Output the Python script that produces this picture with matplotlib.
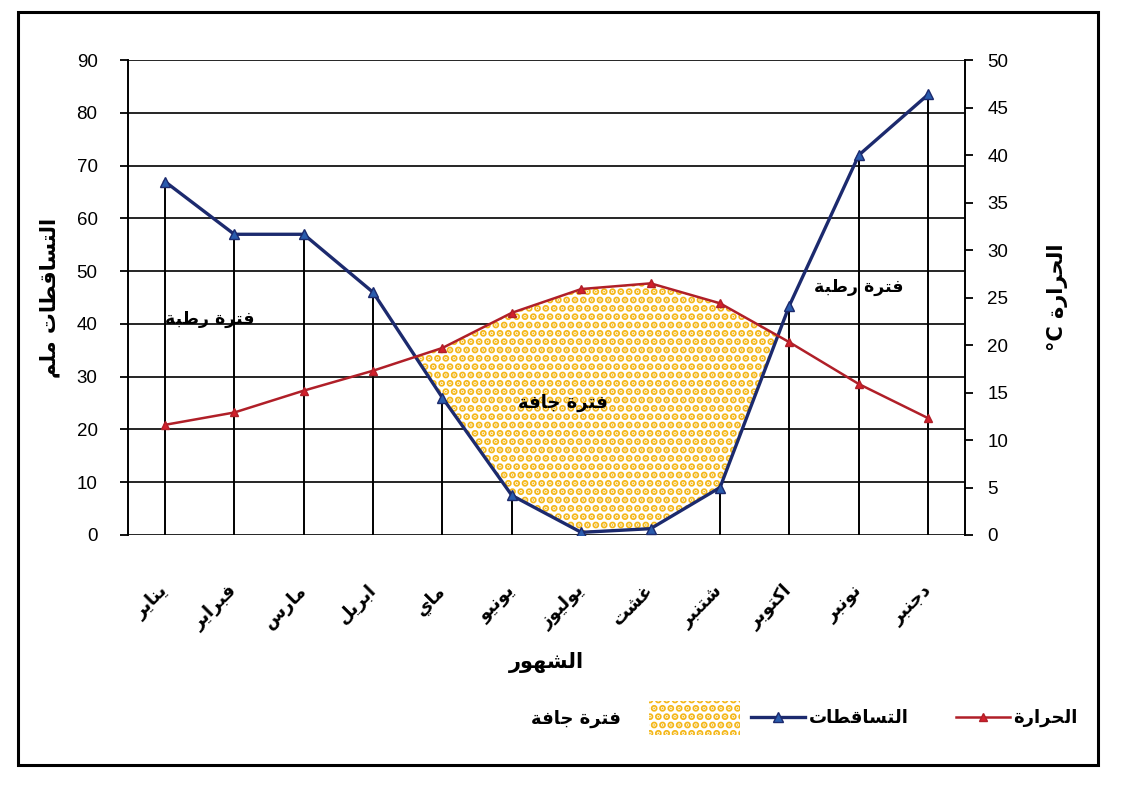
import matplotlib
matplotlib.use("Agg")
import matplotlib.pyplot as plt
from matplotlib.patches import Patch, Rectangle
from matplotlib.lines import Line2D
import numpy as np

# ---------------- data ----------------
months = ["يناير", "فبراير", "مارس", "ابريل", "ماي", "يونيو",
          "يوليوز", "غشت", "شتنبر", "اكتوبر", "نونبر", "دجنبر"]
precip = [67, 57, 57, 46, 26, 7.5, 0.5, 1.2, 9, 43.5, 72, 83.5]      # mm (left axis)
temp = [11.6, 12.9, 15.2, 17.3, 19.7, 23.4, 25.9, 26.5, 24.4, 20.3, 15.9, 12.3]  # °C (right axis)
left_ticks = list(range(0, 91, 10))
right_ticks = list(range(0, 51, 5))

title_x = "الشهور"
title_left = "التساقطات ملم"
title_right = "الحرارة"
label_temp = "الحرارة"
label_precip = "التساقطات"
label_dry = "فترة جافة"
label_wet = "فترة رطبة"

# ---------------- simple Arabic shaping (presentation forms + visual order) -----
FORMS = {
    'ا': (0xFE8D, 0xFE8E, None, None), 'ب': (0xFE8F, 0xFE90, 0xFE91, 0xFE92),
    'ة': (0xFE93, 0xFE94, None, None), 'ت': (0xFE95, 0xFE96, 0xFE97, 0xFE98),
    'ج': (0xFE9D, 0xFE9E, 0xFE9F, 0xFEA0), 'ح': (0xFEA1, 0xFEA2, 0xFEA3, 0xFEA4),
    'د': (0xFEA9, 0xFEAA, None, None), 'ر': (0xFEAD, 0xFEAE, None, None),
    'ز': (0xFEAF, 0xFEB0, None, None), 'س': (0xFEB1, 0xFEB2, 0xFEB3, 0xFEB4),
    'ش': (0xFEB5, 0xFEB6, 0xFEB7, 0xFEB8), 'ط': (0xFEC1, 0xFEC2, 0xFEC3, 0xFEC4),
    'غ': (0xFECD, 0xFECE, 0xFECF, 0xFED0), 'ف': (0xFED1, 0xFED2, 0xFED3, 0xFED4),
    'ق': (0xFED5, 0xFED6, 0xFED7, 0xFED8), 'ك': (0xFED9, 0xFEDA, 0xFEDB, 0xFEDC),
    'ل': (0xFEDD, 0xFEDE, 0xFEDF, 0xFEE0), 'م': (0xFEE1, 0xFEE2, 0xFEE3, 0xFEE4),
    'ن': (0xFEE5, 0xFEE6, 0xFEE7, 0xFEE8), 'ه': (0xFEE9, 0xFEEA, 0xFEEB, 0xFEEC),
    'و': (0xFEED, 0xFEEE, None, None), 'ي': (0xFEF1, 0xFEF2, 0xFEF3, 0xFEF4),
}


def ar(s):
    out = []
    n = len(s)
    for i, c in enumerate(s):
        if c not in FORMS:
            out.append(c)
            continue
        f = FORMS[c]
        prev = s[i - 1] if i > 0 else None
        nxt = s[i + 1] if i < n - 1 else None
        pj = prev in FORMS and FORMS[prev][2] is not None
        nj = nxt in FORMS and f[2] is not None
        idx = 3 if (pj and nj) else 1 if pj else 2 if nj else 0
        out.append(chr(f[idx]))
    return ''.join(out)[::-1]


AR_FONT = ["DejaVu Sans"]
NUM_FONT = ["Liberation Sans", "DejaVu Sans"]
DOT = "#f4b719"

plt.rcParams['hatch.linewidth'] = 3.6

# ---------------- figure ----------------
fig = plt.figure(figsize=(11.24, 7.92), dpi=100)
ax = fig.add_axes([0.114, 0.3245, 0.7445, 0.5995])
ax2 = ax.twinx()

x = np.arange(len(months))
ratio = 90 / 50
temp_left = np.array(temp) * ratio
precip_arr = np.array(precip)

ax.set_xlim(-0.53, len(months) - 0.47)
ax.set_ylim(0, 90)
ax2.set_ylim(0, 50)

# gridlines
for v in left_ticks:
    ax.axhline(v, color="black", lw=1.2, zorder=1)

# drop lines from precipitation points
ax.vlines(x, 0, precip_arr, color="black", lw=1.4, zorder=1.5)

# dry period fill
ax.fill_between(x, precip_arr, temp_left, where=temp_left > precip_arr,
                interpolate=True, facecolor="white", edgecolor=DOT,
                hatch="..", linewidth=0, zorder=2)

# precipitation line
ax.plot(x, precip_arr, color="#1c2a6e", lw=2.4, marker="^", ms=7,
        markerfacecolor="#2a5cae", markeredgecolor="#1c2a6e", zorder=4)
# temperature line
ax2.plot(x, temp, color="#b01f28", lw=1.8, marker="^", ms=6,
         markerfacecolor="#d4202c", markeredgecolor="#b01f28", zorder=4)

# spines and ticks
for a in (ax, ax2):
    a.spines["top"].set_visible(False)
    a.spines["bottom"].set_visible(False)
ax.spines["left"].set_linewidth(1.4)
ax2.spines["right"].set_linewidth(1.4)
ax2.spines["left"].set_visible(False)
ax.spines["right"].set_visible(False)

ax.set_yticks(left_ticks)
ax.set_yticklabels([str(v) for v in left_ticks], fontsize=13.5, family=NUM_FONT)
ax.tick_params(axis="y", length=6, width=1.3, pad=16, direction="out")
ax2.set_yticks(right_ticks)
ax2.set_yticklabels([str(v) for v in right_ticks], fontsize=13.5, family=NUM_FONT)
ax2.tick_params(axis="y", length=6, width=1.3, pad=10, direction="out")

ax.set_xticks(x)
ax.set_xticklabels([ar(m) for m in months], rotation=45, ha="right", va="center",
                   rotation_mode="anchor", fontsize=13, fontweight="bold",
                   family=AR_FONT)
ax.tick_params(axis="x", length=0, pad=38)

ax.set_xlabel(ar(title_x), fontsize=15, fontweight="bold", family=AR_FONT, labelpad=14)
ax.set_ylabel(ar(title_left), fontsize=15, fontweight="bold", family=AR_FONT, labelpad=12)
ax2.set_ylabel("°C " + ar(title_right), fontsize=15, fontweight="bold",
               family=AR_FONT, rotation=90, labelpad=28)

# annotations
ax.text(0.65, 41, ar(label_wet), fontsize=12.5, fontweight="bold", family=AR_FONT,
        ha="center", va="center", zorder=6)
ax.text(10.0, 47, ar(label_wet), fontsize=12.5, fontweight="bold", family=AR_FONT,
        ha="center", va="center", zorder=6)
ax.text(5.73, 25, ar(label_dry), fontsize=13, fontweight="bold", family=AR_FONT,
        ha="center", va="center", zorder=6)

# legends
dry_handle = Patch(facecolor="white", edgecolor=DOT, hatch="..", linewidth=0)
leg1 = fig.legend([dry_handle], [ar(label_dry)], loc="center right",
                  bbox_to_anchor=(756 / 1124, 1 - 718 / 792), frameon=False,
                  markerfirst=False, handlelength=5.0, handleheight=2.6,
                  handletextpad=1.6,
                  prop={"family": AR_FONT, "weight": "bold", "size": 13})
h_p = Line2D([], [], color="#1c2a6e", lw=2.4, marker="^", ms=7,
             markerfacecolor="#2a5cae", markeredgecolor="#1c2a6e")
h_t = Line2D([], [], color="#b01f28", lw=1.8, marker="^", ms=6,
             markerfacecolor="#d4202c", markeredgecolor="#b01f28")
leg2 = fig.legend([h_p, h_t], [ar(label_precip), ar(label_temp)], loc="center left",
                  bbox_to_anchor=(735 / 1124, 1 - 718 / 792), frameon=False,
                  ncol=2, handlelength=3.0, columnspacing=2.6, handletextpad=0.2,
                  prop={"family": AR_FONT, "weight": "bold", "size": 13})

# outer frame
fig.patches.append(Rectangle((18 / 1124, 1 - 765 / 792), 1080 / 1124, 753 / 792,
                             transform=fig.transFigure, fill=False,
                             edgecolor="black", lw=2.2))

fig.savefig("out.png", dpi=100, facecolor="white")
